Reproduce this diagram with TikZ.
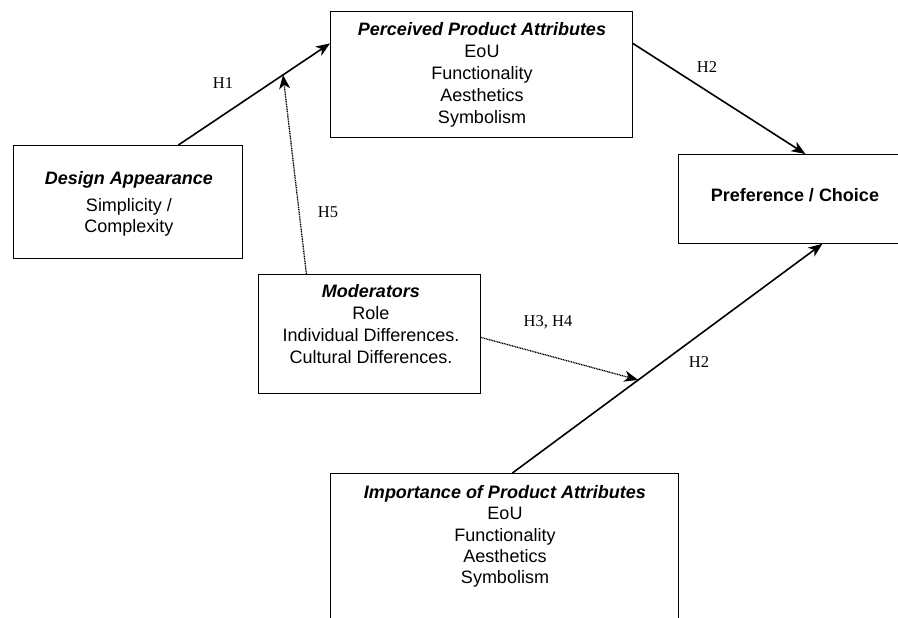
\documentclass[tikz,border=0pt]{standalone}
\usepackage{fontspec}
\setmainfont{Liberation Serif}
\setsansfont{Liberation Sans}
\usetikzlibrary{arrows.meta}

\begin{document}
\begin{tikzpicture}[x=1pt, y=-1pt,
    box/.style={draw, line width=0.8pt, inner sep=0pt, anchor=north west},
    boxtext/.style={align=center, inner sep=0pt, font=\sffamily\fontsize{18}{22}\selectfont},
    link/.style={line width=1.6pt, -{Stealth[length=14pt, width=11pt, inset=4pt]}},
    modlink/.style={link, line width=1.3pt, dash pattern=on 1pt off 0.7pt},
    hyp/.style={inner sep=0pt, font=\fontsize{16.5}{18}\selectfont}]

                \useasboundingbox (0,0) rectangle (898,618);
                \clip (0,0) rectangle (898,618);

                % boxes
                \node[box, minimum width=302pt, minimum height=126pt] (per) at (330,11) {};
                \node[box, minimum width=229pt, minimum height=113pt] (des) at (13,145) {};
                \node[box, minimum width=234pt, minimum height=89pt] (pref) at (678,154) {};
                \node[box, minimum width=222pt, minimum height=119pt] (mod) at (258,274) {};
                \node[box, minimum width=348pt, minimum height=180pt] (imp) at (330,473) {};

                \node[boxtext] (per-text) at (482,75) {\textbf{\textit{Perceived Product Attributes}}\\EoU\\Functionality\\Aesthetics\\Symbolism};
                \node[boxtext, font=\sffamily\fontsize{18}{21}\selectfont] (des-text) at (129,204) {\textbf{\textit{Design Appearance}}\\[6pt]Simplicity /\\Complexity};
                \node[boxtext] (pref-text) at (795,195.6) {\textbf{Preference / Choice}};
                \node[boxtext] (mod-text) at (371,323.6) {\textbf{\textit{Moderators}}\\Role\\Individual Differences.\\Cultural Differences.};
                \node[boxtext, font=\sffamily\fontsize{18}{21.25}\selectfont] (imp-text) at (505,536.4) {\textbf{\textit{Importance of Product Attributes}}\\EoU\\Functionality\\Aesthetics\\Symbolism};

                % hypotheses
                \draw[link] ([xshift=50.5pt]des.north) -- coordinate[pos=0.69] (h1mid) ([yshift=31pt]per.west);
                \draw[link] ([yshift=31pt]per.east) -- ([xshift=10pt]pref.north);
                \draw[link] ([xshift=8pt]imp.north) -- coordinate[pos=0.406] (h2mid) ([xshift=27pt]pref.south);
                \draw[modlink] ([xshift=-63pt]mod.north) -- (h1mid);
                \draw[modlink] ([yshift=-3.5pt]mod.east) -- (h2mid);

                \node[hyp] (h1) at (223,83) {H1};
                \node[hyp] (h5) at (328,212) {H5};
                \node[hyp] (h2a) at (707,67) {H2};
                \node[hyp] (h34) at (548,322.5) {H3, H4};
                \node[hyp] (h2b) at (699,362.5) {H2};
            \end{tikzpicture}
\end{document}
